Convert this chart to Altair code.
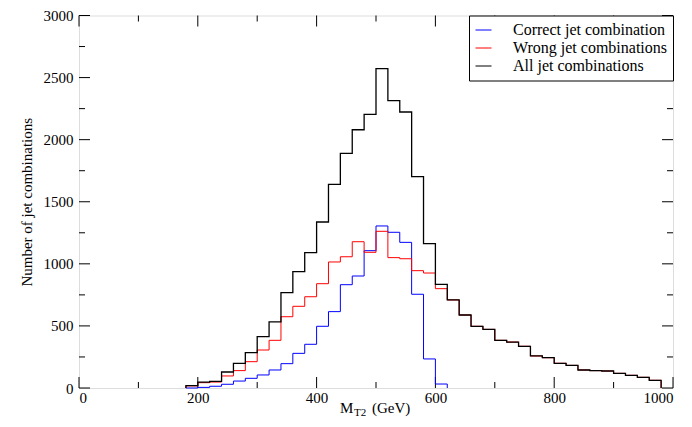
import altair as alt
import pandas as pd

# ---- data (bin width 20 GeV, lower edges) ----
bin_edges = list(range(180, 1000, 20))  # 180 ... 980

all_values = [19, 48, 54, 129, 199, 285, 413, 532, 768, 937,
              1090, 1337, 1640, 1890, 2080, 2204, 2572, 2314, 2223, 1702,
              1162, 835, 709, 588, 497, 472, 384, 370, 336, 258,
              244, 199, 182, 145, 140, 137, 118, 102, 86, 62]

wrong_values = [17, 43, 48, 97, 140, 212, 306, 384, 574, 658,
                735, 840, 1015, 1057, 1178, 1093, 1262, 1050, 1041, 945,
                926, 800, 709, 588, 497, 472, 384, 370, 336, 258,
                244, 199, 182, 145, 140, 137, 118, 102, 86, 62]

correct_values = [0, 5, 14, 30, 56, 78, 105, 145, 196, 279,
                  352, 497, 615, 832, 902, 1106, 1305, 1254, 1173, 755,
                  234, 32]

series_names = ["Correct jet combination", "Wrong jet combinations", "All jet combinations"]
series_colors = ["#0000ff", "#ff0000", "#000000"]

x_major = [0, 200, 400, 600, 800, 1000]
x_minor = [100, 300, 500, 700, 900]
y_major = [0, 500, 1000, 1500, 2000, 2500, 3000]
y_minor = [250, 750, 1250, 1750, 2250, 2750]

W, H = 594, 372.5
FONT = "Liberation Serif"
FS = 15


def steps(name, values):
    rows = [{"series": name, "x": bin_edges[0], "y": 0, "o": 0}]
    for i, v in enumerate(values):
        rows.append({"series": name, "x": bin_edges[i], "y": v, "o": i + 1})
    rows.append({"series": name, "x": bin_edges[len(values)], "y": 0, "o": len(values) + 1})
    return pd.DataFrame(rows)


xscale = alt.Scale(domain=[0, 1000], nice=False, zero=False)
yscale = alt.Scale(domain=[0, 3000], nice=False)
cscale = alt.Scale(domain=series_names, range=series_colors)

xaxis = alt.Axis(values=x_major, ticks=False, domain=False, grid=False, format="d",
                 labelFont=FONT, labelFontSize=FS, labelColor="#000",
                 labelPadding=2, title=None)
yaxis = alt.Axis(values=y_major, ticks=False, domain=False, grid=False, format="d",
                 labelFont=FONT, labelFontSize=FS, labelColor="#000",
                 labelPadding=6, title="Number of jet combinations",
                 titleFont=FONT, titleFontSize=FS, titleFontWeight="normal",
                 titleColor="#000", titlePadding=9)

legend = alt.Legend(title=None, orient="top-right", offset=0,
                    strokeColor="#000", fillColor="#fff", padding=6,
                    symbolType="stroke", symbolSize=256, symbolStrokeWidth=1,
                    labelFont=FONT, labelFontSize=16, labelColor="#000",
                    labelOffset=21, rowPadding=1, cornerRadius=0)


def line_layer(name, values, width):
    enc = dict(
        x=alt.X("x:Q", scale=xscale, axis=xaxis),
        y=alt.Y("y:Q", scale=yscale, axis=yaxis),
        order="o:Q",
        color=alt.Color("series:N", scale=cscale, legend=legend, sort=series_names),
    )
    return alt.Chart(steps(name, values)).mark_line(
        interpolate="step-after", strokeWidth=width).encode(**enc)


layers = [
    line_layer(series_names[0], correct_values, 1),
    line_layer(series_names[1], wrong_values, 1),
    line_layer(series_names[2], all_values, 1.3),
]


# inward ticks on all four sides
def xticks(vals, length):
    df = pd.DataFrame({"x": vals})
    b = alt.Chart(df).mark_rule(stroke="#000", strokeWidth=1).encode(
        x=alt.X("x:Q", scale=xscale, axis=xaxis), y=alt.value(H), y2=alt.value(H - length))
    t = alt.Chart(df).mark_rule(stroke="#000", strokeWidth=1).encode(
        x=alt.X("x:Q", scale=xscale, axis=xaxis), y=alt.value(0), y2=alt.value(length))
    return [b, t]


def yticks(vals, length):
    df = pd.DataFrame({"y": vals})
    l = alt.Chart(df).mark_rule(stroke="#000", strokeWidth=1).encode(
        y=alt.Y("y:Q", scale=yscale, axis=yaxis), x=alt.value(0), x2=alt.value(length))
    r = alt.Chart(df).mark_rule(stroke="#000", strokeWidth=1).encode(
        y=alt.Y("y:Q", scale=yscale, axis=yaxis), x=alt.value(W), x2=alt.value(W - length))
    return [l, r]


tick_layers = xticks(x_major, 11) + xticks(x_minor, 6) + yticks(y_major, 11) + yticks(y_minor, 6)

title_base = alt.Chart(pd.DataFrame({"a": [0]}))
title_layers = [
    title_base.mark_text(text="M", font=FONT, fontSize=FS, align="left", baseline="alphabetic",
                         fill="#000").encode(x=alt.value(261), y=alt.value(H + 25)),
    title_base.mark_text(text="T2", font=FONT, fontSize=11, align="left", baseline="alphabetic",
                         fill="#000").encode(x=alt.value(275), y=alt.value(H + 28)),
    title_base.mark_text(text="(GeV)", font=FONT, fontSize=FS, align="left", baseline="alphabetic",
                         fill="#000").encode(x=alt.value(293), y=alt.value(H + 25)),
]

chart = alt.layer(*tick_layers, *layers, *title_layers).properties(
    width=W, height=H,
    padding={"left": 71, "top": 7.5, "right": 11, "bottom": 31},
    autosize=alt.AutoSizeParams(type="none"),
).configure_view(stroke="#000", strokeWidth=1).configure_axis(
    labelFont=FONT, titleFont=FONT
).configure_legend(labelFont=FONT).configure(background="#fff")

chart.save("out.html", embed_options={"renderer": "svg", "actions": False})
